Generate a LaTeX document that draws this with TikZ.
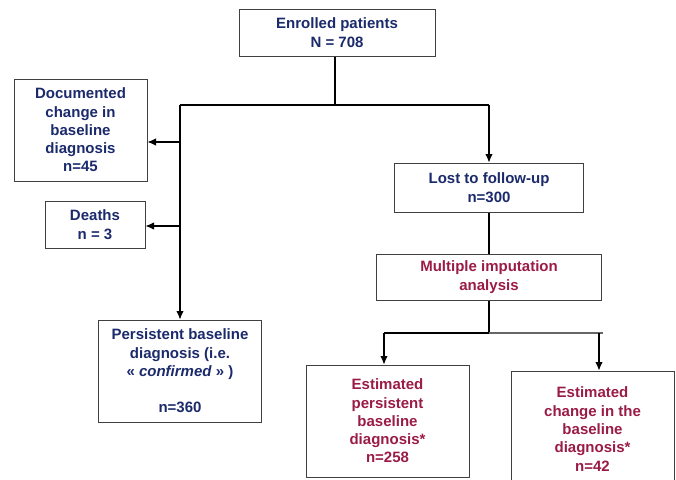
\documentclass[tikz,border=0pt]{standalone}
\usepackage{fontspec}
\setmainfont{Liberation Sans}
\usepackage{xcolor}
\usepackage{tikz}
\usetikzlibrary{arrows.meta}
\definecolor{navy}{HTML}{1B2A6B}
\definecolor{wine}{HTML}{9A1B45}

\begin{document}
\begin{tikzpicture}[x=1pt, y=-1pt,
    every node/.style={rectangle, draw=black!75, line width=1pt, align=center, inner sep=0pt,
        font={\fontsize{15}{18.3}\selectfont\bfseries}, text=navy},
    est/.style={text=wine},
    arr/.style={-{Latex[length=8.5pt,width=7.5pt]}},
    line width=1.1pt]
    \clip (0,0) rectangle (676,479);
    \node[minimum width=196pt, minimum height=47pt] (enrolled) at (337,32.5) {Enrolled patients\\N = 708};
    \node[minimum width=133pt, minimum height=102pt] (docu) at (80.5,130) {Documented\\change in\\baseline\\diagnosis\\n=45};
    \node[minimum width=100pt, minimum height=47pt] (deaths) at (95,224.5) {Deaths\\n = 3};
    \node[minimum width=189pt, minimum height=49pt] (lost) at (489,187.5) {Lost to follow-up\\n=300};
    \node[est, minimum width=225pt, minimum height=46pt] (multi) at (489,277) {Multiple imputation\\analysis};
    \node[minimum width=163pt, minimum height=102pt] (persist) at (180,371) {Persistent baseline\\diagnosis (i.e.\\« \textit{confirmed} » )\\[18.3pt]n=360};
    \node[est, minimum width=163pt, minimum height=112pt] (estpers) at (387.5,421) {Estimated\\persistent\\baseline\\diagnosis*\\n=258};
    \node[est, minimum width=163pt, minimum height=116pt] (estchg) at (592.5,429) {Estimated\\change in the\\baseline\\diagnosis*\\n=42};

    \coordinate (split) at (335,105);
    \coordinate (trunk) at (180,105);
    \coordinate (right) at (489,105);
    \coordinate (t1) at (180,142);
    \coordinate (t2) at (180,226);
    \coordinate (fork) at (489,333);
    \coordinate (fl) at (384,333);
    \coordinate (fr) at (599,333);
    \coordinate (fend) at (603,333);

    \draw (enrolled.south -| split) -- (split);
    \draw (trunk) -- (right);
    \draw[arr] (trunk) -- (persist.north);
    \draw[arr] (right) -- (lost.north);
    \draw[arr] (t1) -- (t1 -| docu.east);
    \draw[arr] (t2) -- (t2 -| deaths.east);
    \draw (lost.south) -- (multi.north);
    \draw (multi.south) -- (fork);
    \draw (fl) -- (fork);
    \draw[black!60] (fork) -- (fend);
    \draw[arr] (fl) -- (fl |- estpers.north);
    \draw[arr] (fr) -- (fr |- estchg.north);
\end{tikzpicture}
\end{document}
